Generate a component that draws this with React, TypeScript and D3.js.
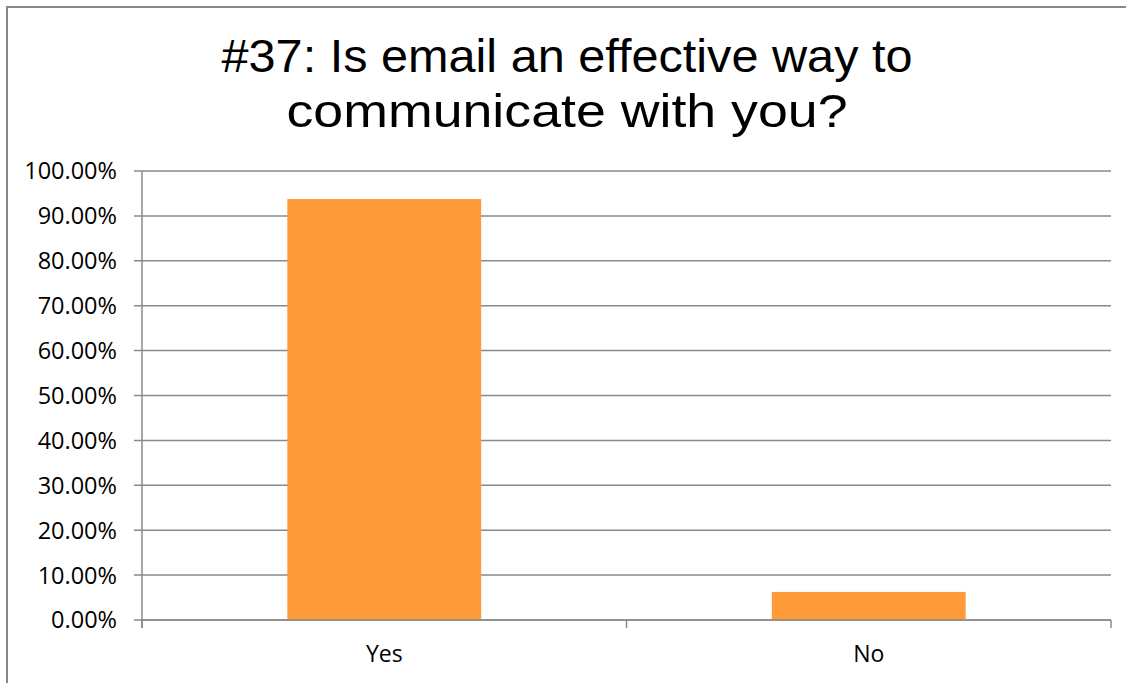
import React from 'react'
import * as d3 from 'd3'

const categories = ['Yes', 'No']
const values = [0.9375, 0.0625]
const yTicks = [0, 0.1, 0.2, 0.3, 0.4, 0.5, 0.6, 0.7, 0.8, 0.9, 1.0]
const titleLines = ['#37: Is email an effective way to', 'communicate with you?']

export default function App() {
  const width = 1126
  const height = 683
  const plot = { left: 142, right: 1111, top: 171, bottom: 620 }

  const x = d3.scaleBand<string>()
    .domain(categories)
    .range([plot.left, plot.right])
    .paddingInner(0.6)
    .paddingOuter(0.3)

  // category boundaries for the x ticks
  const step = (plot.right - plot.left) / categories.length
  const xTickPos = d3.range(categories.length + 1).map(i => plot.left + i * step)

  const y = d3.scaleLinear().domain([0, 1]).range([plot.bottom, plot.top])
  const fmt = d3.format('.2%')

  const axisColor = '#8a8a8a'
  const labelFont = '"Open Sans", sans-serif'

  return (
    <div style={{ position: 'absolute', left: 0, top: 0 }}>
      <svg width={width} height={height} style={{ display: 'block', background: '#fff' }}>
        <rect x={7} y={7} width={1300} height={900} fill="#fff" stroke="#878787" strokeWidth={2} />

        {/* title */}
        <g fontFamily='"Liberation Sans", Arial, sans-serif' fontSize={47} fill="#000">
          <text x={567} y={72} textAnchor="middle" textLength={691} lengthAdjust="spacingAndGlyphs">{titleLines[0]}</text>
          <text x={567} y={127} textAnchor="middle" textLength={561} lengthAdjust="spacingAndGlyphs">{titleLines[1]}</text>
        </g>

        {/* gridlines */}
        {yTicks.map(t => (
          <line key={'g' + t} x1={plot.left - 8} x2={plot.right} y1={y(t)} y2={y(t)} stroke={axisColor} strokeWidth={1.5} />
        ))}

        {/* y axis */}
        <line x1={plot.left} x2={plot.left} y1={plot.top} y2={plot.bottom + 8} stroke={axisColor} strokeWidth={1.5} />
        {yTicks.map(t => (
          <text key={'l' + t} x={117} y={y(t)} dy="0.36em" textAnchor="end" fontFamily={labelFont} fontSize={23.5} fill="#000">
            {fmt(t)}
          </text>
        ))}

        {/* x ticks */}
        {xTickPos.map((p, i) => (
          <line key={'xt' + i} x1={p} x2={p} y1={plot.bottom} y2={plot.bottom + 8} stroke={axisColor} strokeWidth={1.5} />
        ))}

        {/* bars */}
        {categories.map((c, i) => (
          <rect key={c} x={x(c)} y={y(values[i])} width={x.bandwidth()} height={y(0) - y(values[i])} fill="#fe9a37" />
        ))}

        {/* baseline on top of bars */}
        <line x1={plot.left} x2={plot.right} y1={y(0)} y2={y(0)} stroke={axisColor} strokeWidth={1.5} />

        {/* x labels */}
        {categories.map(c => (
          <text key={'xl' + c} x={(x(c) ?? 0) + x.bandwidth() / 2} y={662} textAnchor="middle" fontFamily={labelFont} fontSize={23} fill="#000">
            {c}
          </text>
        ))}
      </svg>
    </div>
  )
}
